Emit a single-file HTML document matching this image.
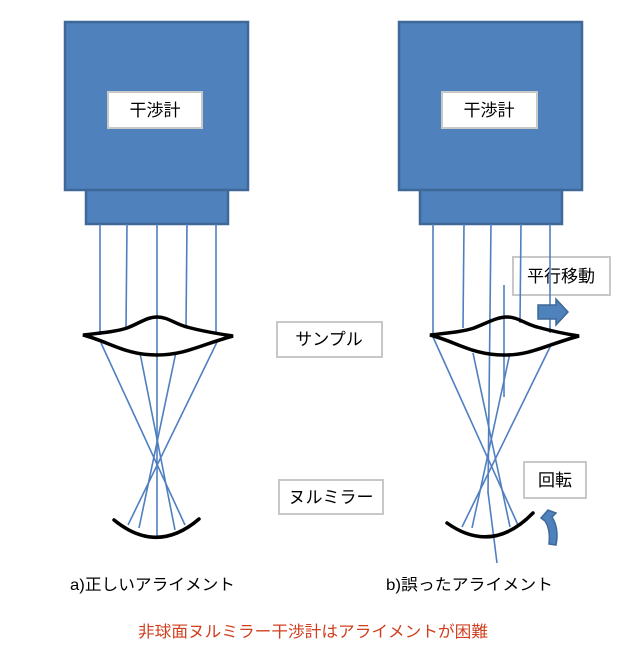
<!DOCTYPE html>
<html><head><meta charset="utf-8"><style>
html,body{margin:0;padding:0;background:#fff;}
svg{display:block;}
text{font-family:"Liberation Sans","Noto Sans CJK JP",sans-serif;}
</style></head><body>
<svg width="639" height="652" viewBox="0 0 639 652" xmlns="http://www.w3.org/2000/svg">
<g stroke="#3e6897" stroke-width="2.5" fill="#4f81bd">
<rect x="65" y="22" width="183" height="168"/>
<rect x="86" y="190" width="142" height="34"/>
<rect x="399" y="22" width="183" height="168"/>
<rect x="420" y="190" width="142" height="34"/>
</g>
<g fill="#fff" stroke="#c8c8c8" stroke-width="2">
<rect x="108" y="92" width="94" height="36"/>
<rect x="442" y="92" width="95" height="36"/>
<rect x="277" y="322" width="105" height="35"/>
<rect x="279" y="480" width="104" height="34"/>
<rect x="513" y="257" width="97" height="38"/>
<rect x="524" y="462" width="62" height="36"/>
</g>
<g font-size="17" fill="#000">
<text x="155" y="116" text-anchor="middle">干渉計</text>
<text x="489" y="116" text-anchor="middle">干渉計</text>
<text x="329" y="345" text-anchor="middle">サンプル</text>
<text x="331" y="503" text-anchor="middle">ヌルミラー</text>
<text x="561" y="282" text-anchor="middle">平行移動</text>
<text x="555" y="486" text-anchor="middle">回転</text>
</g>
<g font-size="16" fill="#000">
<text x="70" y="590" textLength="165" lengthAdjust="spacingAndGlyphs">a)正しいアライメント</text>
<text x="386" y="590" textLength="167" lengthAdjust="spacingAndGlyphs">b)誤ったアライメント</text>
<text x="138" y="637" fill="#d04020" textLength="350" lengthAdjust="spacingAndGlyphs">非球面ヌルミラー干渉計はアライメントが困難</text>
</g>
<g stroke="#4f7fc0" stroke-width="1.6" fill="none">
<line x1="100" y1="224" x2="100" y2="335"/>
<line x1="127" y1="224" x2="126" y2="328"/>
<line x1="157" y1="224" x2="157" y2="537"/>
<line x1="187" y1="224" x2="186" y2="327"/>
<line x1="216" y1="224" x2="216" y2="334"/>
<line x1="101" y1="343" x2="185" y2="525"/>
<line x1="140" y1="353" x2="175" y2="530"/>
<line x1="176" y1="352" x2="139" y2="528"/>
<line x1="218" y1="340" x2="128" y2="525"/>
<line x1="433" y1="224" x2="433" y2="335"/>
<line x1="464" y1="224" x2="463" y2="328"/>
<line x1="491" y1="224" x2="488" y2="493"/>
<line x1="488" y1="492" x2="497" y2="563"/>
<line x1="521" y1="224" x2="520" y2="323"/>
<line x1="550" y1="224" x2="550" y2="333"/>
<line x1="504" y1="285" x2="504" y2="397"/>
<line x1="433" y1="337" x2="518" y2="525"/>
<line x1="473" y1="353" x2="510" y2="527"/>
<line x1="510" y1="353" x2="472" y2="528"/>
<line x1="552" y1="343" x2="462" y2="527"/>
</g>
<g stroke="#000" stroke-width="3.5" fill="none" stroke-linecap="round">
<path d="M83,335 C100,333 115,332 127,328 C140,323 147,317 157,317 C168,317 175,324 187,327 C205,332 220,334 233,336 C200,345 185,355 157,355 C125,355 110,342 83,335 Z"/>
<path d="M114,520 Q157,555 199,519"/>
<path d="M430,335 C447,333 462,332 474,328 C487,323 497,317 507,317 C518,317 525,324 537,327 C555,332 566,334 579,336 C546,345 531,355 505,355 C472,355 457,342 430,335 Z"/>
<path d="M447,523 Q492,555 533,513"/>
</g>
<path d="M538,305 L556,305 L556,299 L568,312 L556,325 L556,319 L538,319 Z" fill="#4f81bd" stroke="#3e6897" stroke-width="1.5"/>
<path d="M541,518 L548,510 L556,513 L552,517 C557,525 558,535 556,545 L549,544 C550,535 549,527 545,521 Z" fill="#4f81bd" stroke="#3e6897" stroke-width="1.5"/>
</svg>
</body></html>
